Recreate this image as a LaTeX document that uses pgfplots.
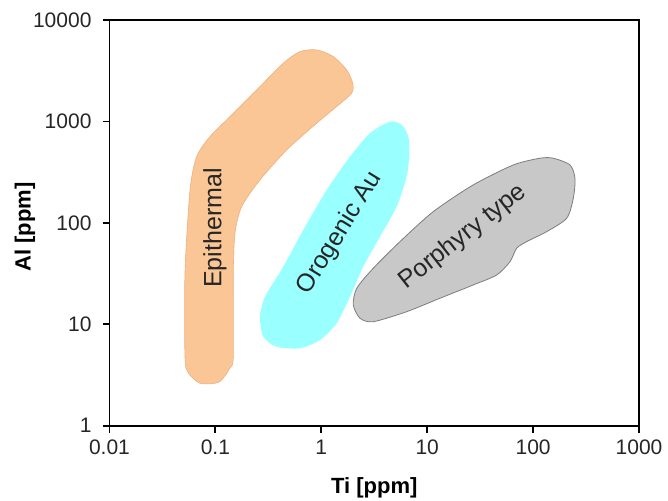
\documentclass[border=0pt]{standalone}
\usepackage{pgfplots}
\pgfplotsset{compat=1.18}
\usepackage{fontspec}
\setmainfont{Liberation Sans}
\definecolor{epi}{RGB}{250,198,150}
\definecolor{epiedge}{RGB}{240,175,125}
\definecolor{oro}{RGB}{153,255,255}
\definecolor{por}{RGB}{200,200,200}
\definecolor{poredge}{RGB}{125,125,125}
\begin{document}
\begin{tikzpicture}
\begin{axis}[
  at={(0,0)}, anchor=south west,
  scale only axis,
  width=264.75pt, height=202.85pt,
  xmode=log, ymode=log,
  xmin=0.01, xmax=1000, ymin=1, ymax=10000,
  xtick={0.01,0.1,1,10,100,1000},
  xticklabels={0.01,0.1,1,10,100,1000},
  ytick={1,10,100,1000,10000},
  yticklabels={1,10,100,1000,10000},
  xminorticks=false, yminorticks=false,
  tick pos=left, tick align=outside,
  major tick length=3.5pt,
  axis line style={line width=0.9pt},
  every tick/.style={line width=0.9pt, black},
  /pgf/number format/assume math mode=true,
  tick label style={font=\fontsize{10.5}{12}\selectfont, text=black!85},
  yticklabel style={xshift=-2pt},
  xlabel={\textbf{Ti [ppm]}},
  ylabel={\textbf{Al [ppm]}},
  label style={font=\fontsize{11}{13}\selectfont},
  xlabel style={at={(axis description cs:0.5,-0.152)}, anchor=center},
  ylabel style={at={(axis description cs:-0.1596,0.49)}, anchor=center, rotate=0},
  clip=false,
]
% Epithermal
\addplot[smooth cycle, tension=0.45, fill=epi, draw=epiedge, line width=0.3pt] coordinates {
(0.905,5070) (1.298,4355) (1.737,3220) (1.979,2381) (1.936,1897) (1.347,1359)
(0.905,960) (0.4715,523) (0.2638,265) (0.1771,144.5) (0.1532,79.5) (0.1476,32.1)
(0.1476,4.79) (0.1373,3.71) (0.1147,2.82) (0.0991,2.62) (0.0716,2.62) (0.0555,3.31)
(0.0516,4.79) (0.0516,32.1) (0.0576,211) (0.0666,450) (0.0889,708) (0.1373,1115)
(0.2455,2045) (0.4378,3750) (0.6295,4880)
};
% Orogenic Au
\addplot[smooth cycle, tension=0.45, fill=oro, draw=none] coordinates {
(4.453,995) (5.743,923) (6.63,708) (6.78,486) (6.40,285.5) (5.15,144.5)
(3.583,73.1) (2.493,37.0) (1.866,18.7) (1.398,10.23) (0.972,7.0) (0.6295,5.80)
(0.379,6.01) (0.2833,7.55) (0.2638,11.88) (0.294,18.7) (0.4378,37.0) (0.676,85.1)
(1.125,211) (1.866,450) (2.884,765)
};
% Porphyry type
\addplot[smooth cycle, tension=0.45, fill=por, draw=poredge, line width=0.4pt] coordinates {
(155.1,433.6) (223,372) (248.7,275) (239.7,174.8) (207.6,111) (134.4,81.9)
(87.0,65.3) (70.0,56.2) (60.5,41.4) (45.3,30.6) (27.2,24.4) (13.2,18.05)
(6.40,13.3) (3.097,10.6) (2.319,11.46) (2.005,15.5) (2.16,22.6) (3.097,35.7)
(5.536,65.3) (11.42,129) (27.2,236.5) (65.0,372) (116.2,433.6)
};
\node[rotate=90, font=\fontsize{12.5}{14}\selectfont, text=black!85] at (axis cs:0.099,89) {Epithermal};
\node[rotate=58.3, font=\fontsize{12.5}{14}\selectfont, text=black!85] at (axis cs:1.502,79.5) {Orogenic Au};
\node[rotate=38.1, font=\fontsize{12.5}{14}\selectfont, text=black!85] at (axis cs:21.8,72.6) {Porphyry type};
\end{axis}
\pgfresetboundingbox
\path[use as bounding box] (-54.75pt,-37.65pt) rectangle (279.25pt,212.85pt);
\end{tikzpicture}
\end{document}
